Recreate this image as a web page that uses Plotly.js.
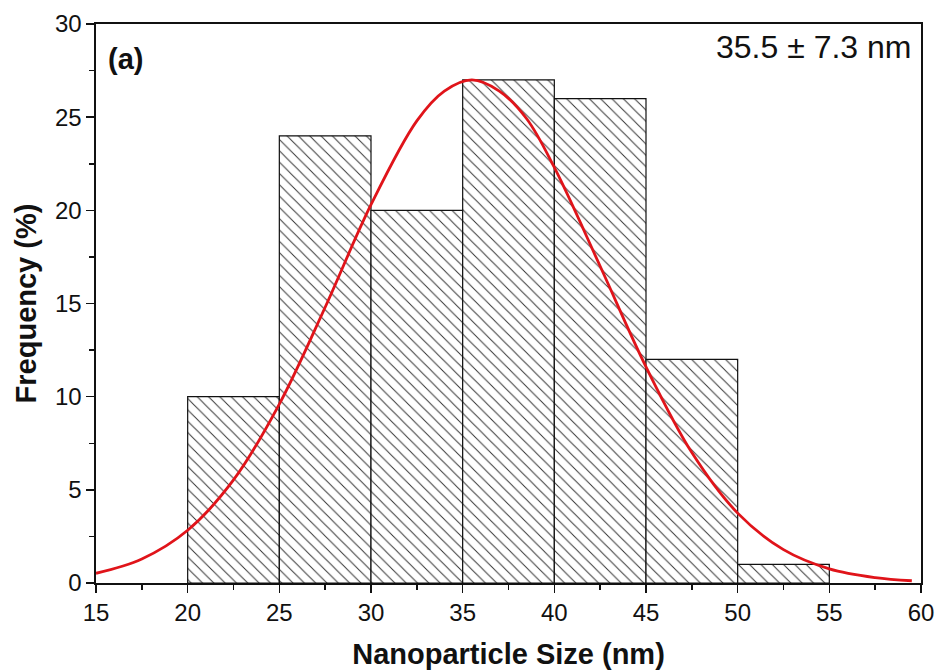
<!DOCTYPE html>
<html>
<head>
<meta charset="utf-8">
<script src="https://cdn.plot.ly/plotly-3.0.1.min.js"></script>
<style>html,body{margin:0;padding:0;background:#fff;}#chart{width:937px;height:670px;}</style>
</head>
<body>
<div id="chart"></div>
<script>
// Histogram bins (nm) and frequencies (%)
const binCenters = [22.5, 27.5, 32.5, 37.5, 42.5, 47.5, 52.5];
const frequencies = [10, 24, 20, 27, 26, 12, 1];
const binWidth = 5;

// Fitted distribution curve
const fitX = [15, 17.5, 20, 22.5, 25, 27.5, 30, 32.5, 34, 35.5, 37, 38.5, 40, 42.5, 45, 47.5, 50, 52.5, 55, 57.5, 59.5];
const fitY = [0.52, 1.29, 2.83, 5.53, 9.6, 14.8, 20.3, 24.8, 26.4, 27, 26.4, 24.9, 22.3, 17.0, 11.6, 7.0, 3.75, 1.79, 0.76, 0.29, 0.12];

const xTicks = [15, 20, 25, 30, 35, 40, 45, 50, 55, 60];
const yTicks = [0, 5, 10, 15, 20, 25, 30];

const font = "Liberation Sans, Arial, sans-serif";

const traces = [
  {
    type: 'bar',
    x: binCenters,
    y: frequencies,
    width: binWidth,
    marker: {
      color: 'white',
      line: {color: '#111', width: 1.2},
      pattern: {shape: '\\', fgcolor: '#333', bgcolor: 'white', size: 8, solidity: 0.12}
    },
    hoverinfo: 'x+y',
    showlegend: false
  },
  {
    type: 'scatter',
    mode: 'lines',
    x: fitX,
    y: fitY,
    line: {color: '#e0141a', width: 2.8, shape: 'spline', smoothing: 1},
    showlegend: false
  }
];

const layout = {
  width: 937,
  height: 670,
  margin: {l: 96, r: 16, t: 24, b: 87},
  paper_bgcolor: 'white',
  plot_bgcolor: 'white',
  bargap: 0,
  font: {family: font, color: '#111', size: 24},
  xaxis: {
    range: [15, 60],
    tickvals: xTicks,
    ticks: 'outside',
    ticklen: 8,
    tickwidth: 1.5,
    tickcolor: '#111',
    minor: {dtick: 2.5, tick0: 15, ticks: 'outside', ticklen: 5, tickwidth: 1.5, tickcolor: '#111'},
    showline: true,
    linecolor: '#111',
    linewidth: 1.6,
    mirror: true,
    showgrid: false,
    zeroline: false,
    tickfont: {family: font, size: 24, color: '#111'},
    title: {text: 'Nanoparticle Size (nm)', font: {family: font, size: 29, color: '#111', weight: 'bold'}, standoff: 18}
  },
  yaxis: {
    range: [0, 30],
    tickvals: yTicks,
    ticks: 'outside',
    ticklen: 8,
    tickwidth: 1.5,
    tickcolor: '#111',
    minor: {dtick: 2.5, tick0: 0, ticks: 'outside', ticklen: 5, tickwidth: 1.5, tickcolor: '#111'},
    showline: true,
    linecolor: '#111',
    linewidth: 1.6,
    mirror: true,
    showgrid: false,
    zeroline: false,
    tickfont: {family: font, size: 24, color: '#111'},
    title: {text: 'Frequency (%)', font: {family: font, size: 29, color: '#111', weight: 'bold'}, standoff: 10}
  },
  annotations: [
    {xref: 'paper', yref: 'paper', x: 0.012, y: 0.97, xanchor: 'left', yanchor: 'top', showarrow: false,
     text: '<b>(a)</b>', font: {family: font, size: 29, color: '#111'}},
    {xref: 'paper', yref: 'paper', x: 0.99, y: 0.995, xanchor: 'right', yanchor: 'top', showarrow: false,
     text: '35.5 ± 7.3 nm', font: {family: font, size: 32, color: '#111'}}
  ]
};

Plotly.newPlot('chart', traces, layout, {displayModeBar: false, staticPlot: true});
</script>
</body>
</html>
